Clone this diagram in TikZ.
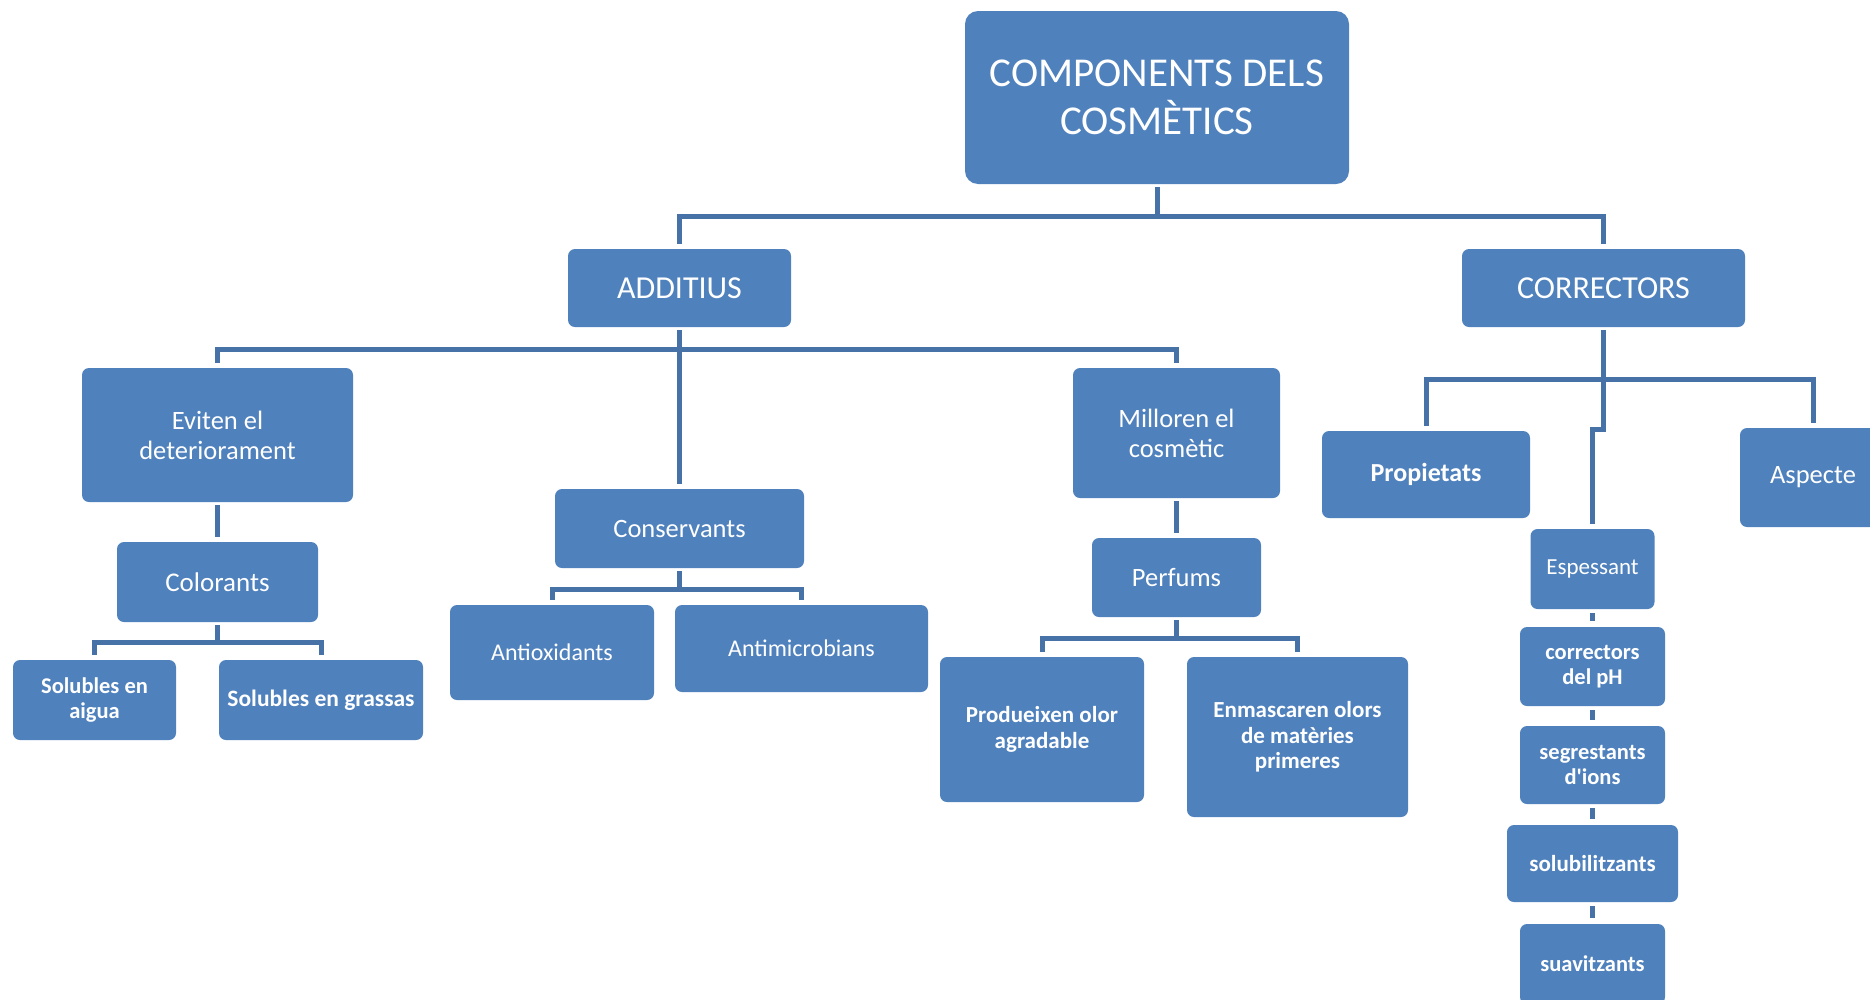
\documentclass[tikz,border=0pt]{standalone}
\usepackage{fontspec}
\setmainfont{Carlito}
\definecolor{boxblue}{HTML}{4F81BD}
\definecolor{lineblue}{HTML}{4672A8}

\tikzset{
    box/.style={fill=boxblue, rounded corners=7pt, text=white, align=center, inner sep=0pt},
    conn/.style={draw=lineblue, line width=5pt, shorten <=3pt, shorten >=5pt},
    tbig/.style={font=\fontsize{41}{48}\selectfont},
    tmid/.style={font=\fontsize{32}{37}\selectfont},
    tnorm/.style={font=\fontsize{26.5}{30}\selectfont},
    tsmall/.style={font=\fontsize{23}{26}\selectfont},
    tbold/.style={font=\fontsize{22.5}{25.5}\selectfont\bfseries},
}

\begin{document}
\begin{tikzpicture}[x=1pt, y=-1pt]
    % draw frame
    \useasboundingbox (0,0) rectangle (1870,999);
    \clip (0,0) rectangle (1870,999);

    % draw boxes
    \node[box, tbig, rounded corners=13pt, minimum width=384pt, minimum height=173pt] (root) at (1157,97.5) {COMPONENTS DELS\\COSMÈTICS};
    \node[box, tmid, minimum width=223pt, minimum height=78pt] (additius) at (679.5,288) {ADDITIUS};
    \node[box, tmid, minimum width=283pt, minimum height=78pt] (correctors) at (1603.5,288) {CORRECTORS};

    \node[box, tnorm, minimum width=271pt, minimum height=134pt] (eviten) at (217.5,435) {Eviten el\\deteriorament};
    \node[box, tnorm, font=\fontsize{27}{30}\selectfont, minimum width=201pt, minimum height=80pt] (colorants) at (217.5,582) {Colorants};
    \node[box, tbold, minimum width=163pt, minimum height=80pt] (aigua) at (94.5,700) {Solubles en\\aigua};
    \node[box, tbold, font=\fontsize{23.5}{26}\selectfont\bfseries, minimum width=204pt, minimum height=80pt] (grassas) at (321,700) {Solubles en grassas};

    \node[box, tnorm, minimum width=249pt, minimum height=79pt] (conservants) at (679.5,528.5) {Conservants};
    \node[box, tsmall, font=\fontsize{24}{27}\selectfont, minimum width=204pt, minimum height=95pt] (antiox) at (552,652.5) {Antioxidants};
    \node[box, tsmall, font=\fontsize{24}{27}\selectfont, minimum width=253pt, minimum height=87pt] (antimicro) at (801.5,648.5) {Antimicrobians};

    \node[box, tnorm, minimum width=207pt, minimum height=130pt] (milloren) at (1176.5,433) {Milloren el\\cosmètic};
    \node[box, tnorm, minimum width=169pt, minimum height=79pt] (perfums) at (1176.5,577.5) {Perfums};
    \node[box, tbold, font=\fontsize{23}{25.5}\selectfont\bfseries, minimum width=204pt, minimum height=145pt] (produeixen) at (1042,729.5) {Produeixen olor\\agradable};
    \node[box, tbold, font=\fontsize{23}{25.5}\selectfont\bfseries, minimum width=221pt, minimum height=160pt] (enmascaren) at (1297.5,737) {Enmascaren olors\\de matèries\\primeres};

    \node[box, tbold, font=\fontsize{26}{29}\selectfont\bfseries, minimum width=208pt, minimum height=87pt] (propietats) at (1426,474.5) {Propietats};
    \node[box, tnorm, minimum width=146pt, minimum height=99pt] (aspecte) at (1813,477.5) {Aspecte};
    \node[box, tsmall, minimum width=124pt, minimum height=80pt] (espessant) at (1592.5,569) {Espessant};
    \node[box, tbold, minimum width=145pt, minimum height=79pt] (phcorr) at (1592.5,666.5) {correctors\\del pH};
    \node[box, tbold, minimum width=145pt, minimum height=78pt] (segrest) at (1592.5,765) {segrestants\\d\textquotesingle ions};
    \node[box, tbold, font=\fontsize{23}{25.5}\selectfont\bfseries, minimum width=171pt, minimum height=77pt] (solubil) at (1592.5,863.5) {solubilitzants};
    \node[box, tbold, minimum width=145pt, minimum height=80pt] (suavitz) at (1592.5,964) {suavitzants};

    % draw first level
    \foreach \n in {additius, correctors}
        \draw[conn] (root.south) -- ++(0,32) -| (\n.north);

    % draw additius branch
    \foreach \n in {eviten, milloren}
        \draw[conn] (additius.south) -- ++(0,22) -| (\n.north);
    \draw[conn] (additius.south) -- (conservants.north);
    \draw[conn] (eviten.south) -- (colorants.north);
    \draw[conn] (milloren.south) -- (perfums.north);
    \foreach \n in {aigua, grassas}
        \draw[conn] (colorants.south) -- ++(0,20) -| (\n.north);
    \foreach \n in {antiox, antimicro}
        \draw[conn] (conservants.south) -- ++(0,21) -| (\n.north);
    \foreach \n in {produeixen, enmascaren}
        \draw[conn] (perfums.south) -- ++(0,21) -| (\n.north);

    % draw correctors branch
    \foreach \n in {propietats, aspecte}
        \draw[conn] (correctors.south) -- ++(0,52) -| (\n.north);
    \draw[conn] (correctors.south) -- ++(0,102) -| (espessant.north);
    \foreach \a/\b in {espessant/phcorr, phcorr/segrest, segrest/solubil, solubil/suavitz}
        \draw[conn, shorten <=4pt, shorten >=6pt] (\a) -- (\b);

\end{tikzpicture}
\end{document}
